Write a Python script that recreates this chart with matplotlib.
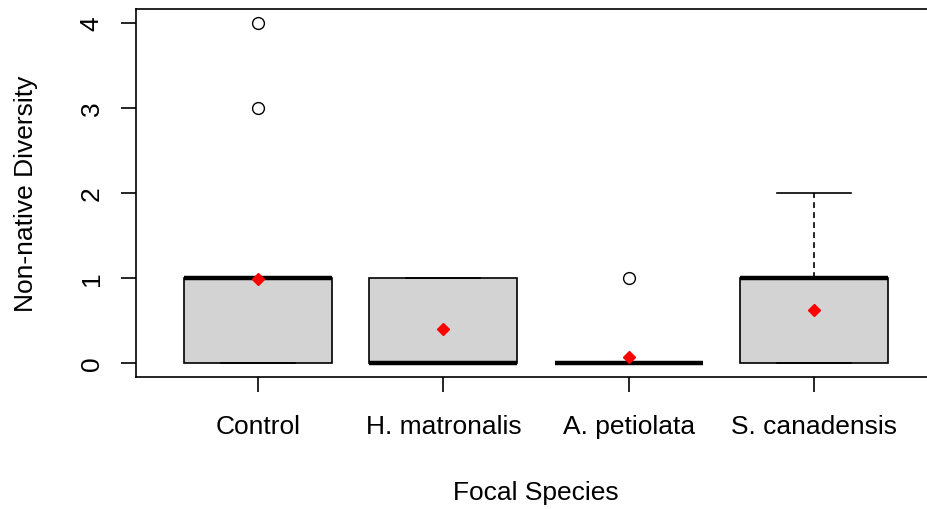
import numpy as np
import matplotlib
matplotlib.use("Agg")
import matplotlib.pyplot as plt

species = ["Control", "H. matronalis", "A. petiolata", "S. canadensis"]
q1 = [0, 0, 0, 0]
medians = [1, 0, 0, 1]
q3 = [1, 1, 0, 1]
whisker_lo = [0, 0, 0, 0]
whisker_hi = [1, 1, 0, 2]
outliers = [[3, 4], [], [1], []]
means = [0.99, 0.40, 0.07, 0.62]

plt.rcParams["font.family"] = ["Liberation Sans", "DejaVu Sans"]
plt.rcParams["font.size"] = 19


def main():
    fig = plt.figure(figsize=(9.27, 5.10), dpi=100)
    ax = fig.add_axes([135.7 / 927, 1 - 377.6 / 510, 800.6 / 927, 367.2 / 510])

    stats = []
    for i in range(len(species)):
        stats.append(
            {
                "q1": q1[i],
                "med": medians[i],
                "q3": q3[i],
                "whislo": whisker_lo[i],
                "whishi": whisker_hi[i],
                "fliers": outliers[i],
                "label": species[i],
            }
        )

    positions = np.arange(1, len(species) + 1)
    ax.bxp(
        stats,
        positions=positions,
        widths=0.8,
        capwidths=0.4,
        patch_artist=True,
        showfliers=True,
        boxprops=dict(facecolor="#d3d3d3", edgecolor="black", linewidth=1.2),
        medianprops=dict(color="black", linewidth=3.2, solid_capstyle="butt"),
        whiskerprops=dict(color="black", linewidth=1.2, linestyle=(0, (3.5, 2.5))),
        capprops=dict(color="black", linewidth=1.2),
        flierprops=dict(
            marker="o",
            markerfacecolor="none",
            markeredgecolor="black",
            markersize=8.5,
            markeredgewidth=1.0,
        ),
    )
    ax.plot(
        positions, means, linestyle="none", marker="D", color="red",
        markersize=6.3, zorder=5,
    )

    ax.set_xlim(0.34, 4.66)
    ax.set_ylim(-0.16, 4.16)
    ax.set_yticks([0, 1, 2, 3, 4])
    ax.set_xticks(positions)
    ax.set_xticklabels(species)
    for lab in ax.get_yticklabels():
        lab.set_rotation(90)
        lab.set_va("center")

    ax.tick_params(axis="x", length=11, width=1.2, pad=16, labelsize=19)
    ax.tick_params(axis="y", length=11, width=1.2, pad=12, labelsize=19)
    for sp in ax.spines.values():
        sp.set_linewidth(1.2)

    ax.set_xlabel("Focal Species", fontsize=19)
    ax.set_ylabel("Non-native Diversity", fontsize=19)
    ax.xaxis.set_label_coords(0.5, (377.6 - 481) / 367.2)
    ax.yaxis.set_label_coords((37.5 - 135.7) / 800.6, 0.5)

    fig.savefig("out.png", dpi=100)


if __name__ == "__main__":
    main()
